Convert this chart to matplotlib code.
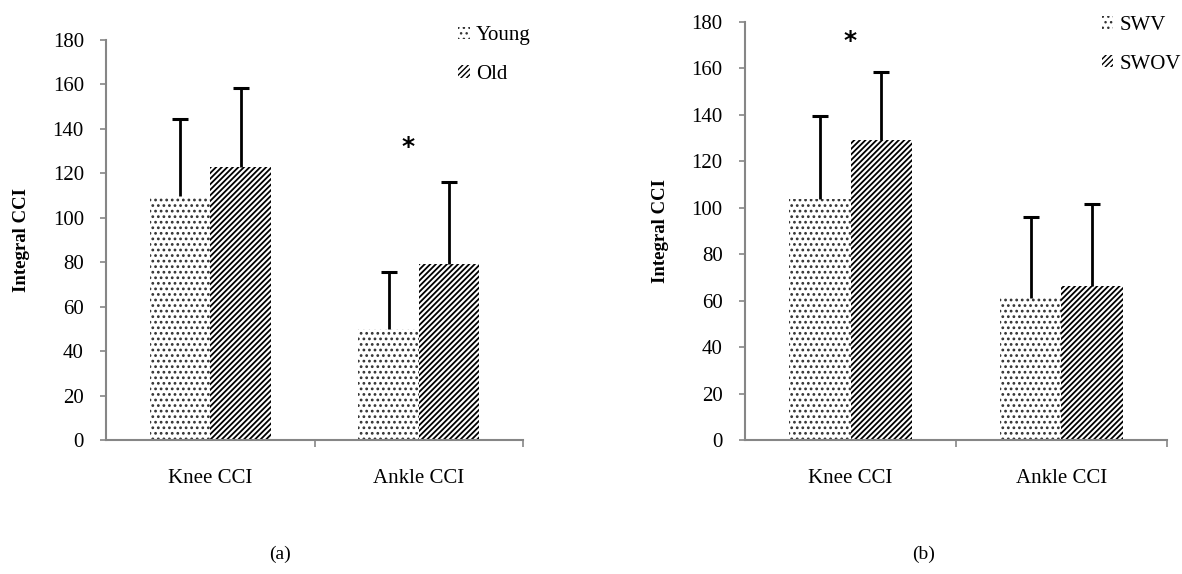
import matplotlib
matplotlib.use("Agg")
import matplotlib.pyplot as plt

# ── Data ──────────────────────────────────────────────────────────────────────
categories = ["Knee CCI", "Ankle CCI"]

# panel (a): Young vs Old
young_mean = [110.0, 50.0]
young_sd   = [34.5, 25.5]
old_mean   = [123.0, 79.0]
old_sd     = [35.5, 37.0]
sig_a      = (0.95, 132.0)   # x position, height of asterisk

# panel (b): SWV vs SWOV
swv_mean   = [104.0, 61.0]
swv_sd     = [35.5, 35.0]
swov_mean  = [129.0, 66.5]
swov_sd    = [29.5, 35.0]
sig_b      = (0.0, 172.0)

yticks = list(range(0, 181, 20))

# ── Style ─────────────────────────────────────────────────────────────────────
plt.rcParams["font.family"] = ["Liberation Serif", "DejaVu Serif"]
AXIS_COL = "#868686"
FS = 15
BAR_W = 0.29


def draw_panel(ax, m1, s1, m2, s2, labels, sig, leg_anchor):
    x = range(len(categories))
    x1 = [i - BAR_W / 2 for i in x]
    x2 = [i + BAR_W / 2 for i in x]

    with plt.rc_context({"hatch.linewidth": 1.2}):
        b1 = ax.bar(x1, m1, BAR_W, color="white", edgecolor="#333333",
                    hatch="...", linewidth=0, label=labels[0], zorder=2)
    with plt.rc_context({"hatch.linewidth": 1.3}):
        b2 = ax.bar(x2, m2, BAR_W, color="white", edgecolor="black",
                    hatch="//////", linewidth=0, label=labels[1], zorder=2)

    # upward-only error bars with a single cap on top
    for xs, m, s in [(x1, m1, s1), (x2, m2, s2)]:
        tops = [mi + si for mi, si in zip(m, s)]
        ax.vlines(xs, m, tops, color="black", linewidth=2, zorder=3)
        ax.plot(xs, tops, linestyle="none", marker="_", markersize=12,
                markeredgewidth=2.2, color="black", zorder=3)

    sx, sy = sig
    ax.text(sx, sy, "*", ha="center", va="center", fontsize=18,
            fontweight="bold", family="DejaVu Sans")

    ax.set_xlim(-0.5, len(categories) - 0.5)
    ax.set_ylim(0, 180)
    ax.set_yticks(yticks)
    ax.set_xticks([i + 0.5 for i in range(len(categories))])
    ax.set_xticklabels([])
    ax.set_xticks(list(x), minor=True)
    ax.set_xticklabels(categories, minor=True)
    ax.tick_params(axis="x", which="minor", length=0, pad=21, labelsize=FS)
    ax.tick_params(axis="x", which="major", length=5, color=AXIS_COL,
                   direction="out", width=1.2)
    ax.tick_params(axis="y", length=4, color=AXIS_COL, width=1.2,
                   labelsize=FS, pad=12)

    for side in ["top", "right"]:
        ax.spines[side].set_visible(False)
    for side in ["left", "bottom"]:
        ax.spines[side].set_color(AXIS_COL)
        ax.spines[side].set_linewidth(1.5)

    ax.set_ylabel("Integral CCI", fontsize=13.5, fontweight="bold", labelpad=16)

    ax.legend(handles=[b1, b2], loc="upper left", bbox_to_anchor=leg_anchor,
              frameon=False, fontsize=FS, handlelength=0.55, handleheight=0.55,
              handletextpad=0.3, labelspacing=0.95, borderaxespad=0)


fig = plt.figure(figsize=(11.82, 5.74), dpi=100, facecolor="white")
ax_a = fig.add_axes([0.0897, 0.2334, 0.3528, 0.6969])
ax_b = fig.add_axes([0.6303, 0.2334, 0.3570, 0.7282])

draw_panel(ax_a, young_mean, young_sd, old_mean, old_sd, ["Young", "Old"],
           sig_a, (0.825, 1.055))
draw_panel(ax_b, swv_mean, swv_sd, swov_mean, swov_sd, ["SWV", "SWOV"],
           sig_b, (0.826, 1.035))

fig.text(0.237, 0.035, "(a)", ha="center", va="center", fontsize=14)
fig.text(0.781, 0.035, "(b)", ha="center", va="center", fontsize=14)

fig.savefig("out.png", dpi=100, facecolor="white")
